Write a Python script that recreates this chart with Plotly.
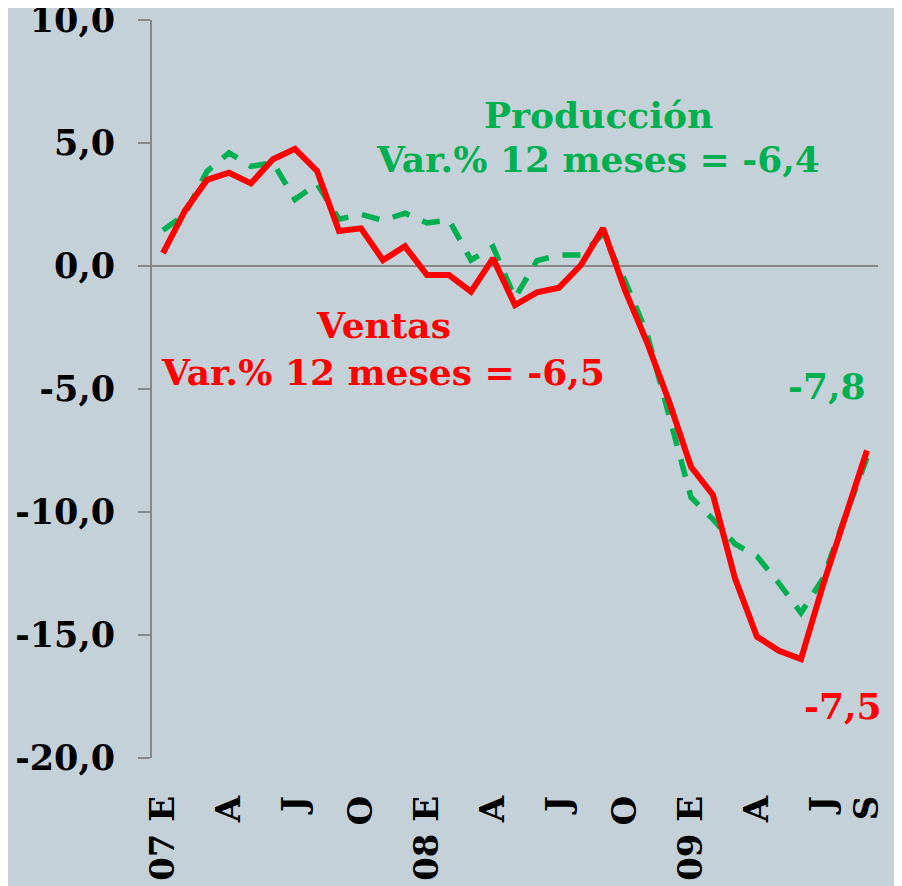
import plotly.graph_objects as go

# Monthly index: Jan-2007 (0) ... Sep-2009 (32)
months = list(range(33))

ventas = [0.52, 2.25, 3.50, 3.79, 3.36, 4.34, 4.76, 3.87, 1.42, 1.53, 0.24,
          0.80, -0.37, -0.37, -1.04, 0.31, -1.59, -1.07, -0.88, 0.04, 1.53,
          -0.98, -3.10, -5.50, -8.16, -9.31, -12.70, -15.07, -15.64, -15.98,
          -12.97, -10.26, -7.5]

produccion = [1.45, 2.10, 3.85, 4.60, 4.05, 4.20, 2.70, 3.35, 1.90, 2.10, 1.85,
              2.15, 1.75, 1.87, 0.24, 0.78, -1.30, 0.22, 0.45, 0.45, 1.30,
              -0.60, -2.75, -6.15, -9.40, -10.30, -11.30, -11.80, -12.90, -14.10,
              -12.70, -10.20, -7.8]

x_tickvals = [0, 3, 6, 9, 12, 15, 18, 21, 24, 27, 30, 32]
x_ticktext = ["07 E", "A", "J", "O", "08 E", "A", "J", "O", "09 E", "A", "J", "S"]

y_tickvals = [-20, -15, -10, -5, 0, 5, 10]
y_ticktext = ["-20,0", "-15,0", "-10,0", "-5,0", "0,0", "5,0", "10,0"]

GREEN = "#00B050"
RED = "#FF0000"
BG = "#C5D1D8"
FONT = "DejaVu Serif"

fig = go.Figure()
fig.add_trace(go.Scatter(x=months, y=produccion, mode="lines", name="Producción",
                         line=dict(color=GREEN, width=5.5, dash="18px,14px")))
fig.add_trace(go.Scatter(x=months, y=ventas, mode="lines", name="Ventas",
                         line=dict(color=RED, width=6)))

# page body has an 8px margin; figure is sized so the plot area lands on
# screen x 152..878, y 20..758
OFF = 8
FW, FH = 902 - OFF, 886 - OFF
L, R, T, B = 152, 878, 20, 758
W, H = R - L, B - T


def px(xp):
    return (xp - L) / W


def py(yp):
    return (B - yp) / H


def label(text, x, y, color, size=36):
    fig.add_annotation(text=text, x=px(x), y=py(y), xref="paper", yref="paper",
                       showarrow=False, xanchor="center", yanchor="middle",
                       font=dict(family=FONT, size=size, color=color, weight="bold"))


label("Producción", 598, 115, GREEN)
label("Var.% 12 meses = -6,4", 598, 159, GREEN)
label("Ventas", 383, 325, RED)
label("Var.% 12 meses = -6,5", 383, 372, RED)
label("-7,8", 827, 386, GREEN)
label("-7,5", 843, 706, RED)

fig.update_layout(
    width=FW, height=FH,
    margin=dict(l=L - OFF, r=FW - (R - OFF), t=T - OFF, b=FH - (B - OFF),
                autoexpand=False),
    paper_bgcolor=BG, plot_bgcolor=BG,
    showlegend=False,
    font=dict(family=FONT, color="black"),
)
fig.update_xaxes(range=[-0.5, 32.5], tickmode="array", tickvals=x_tickvals,
                 ticktext=x_ticktext, tickangle=-90, showgrid=False,
                 zeroline=False, showline=False, ticks="", automargin=False,
                 ticklabelstandoff=30, ticklabeloverflow="allow",
                 tickfont=dict(family=FONT, size=34, color="black", weight="bold"))
fig.update_yaxes(range=[-20, 10], tickmode="array", tickvals=y_tickvals,
                 ticktext=y_ticktext, showgrid=False, automargin=False,
                 zeroline=True, zerolinecolor="#888888", zerolinewidth=2,
                 showline=True, linecolor="#888888", linewidth=2,
                 ticks="outside", ticklen=12, tickcolor="#888888", tickwidth=2,
                 ticklabelstandoff=16, ticklabeloverflow="allow",
                 tickfont=dict(family=FONT, size=35, color="black", weight="bold"))

fig.write_html("out.html")
